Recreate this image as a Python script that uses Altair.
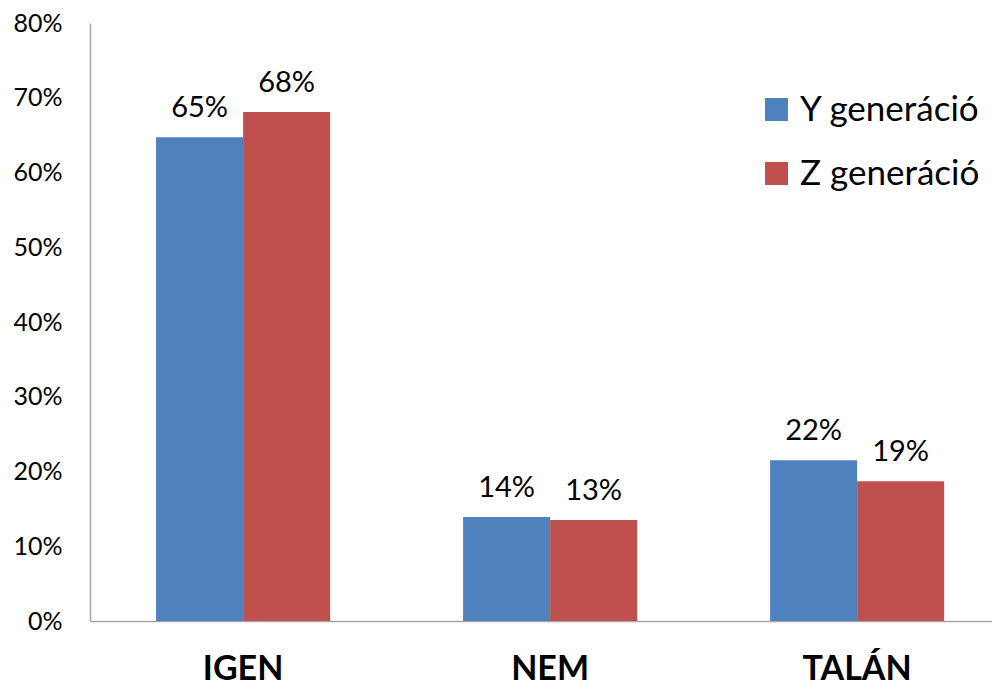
import altair as alt
import pandas as pd

categories = ["IGEN", "NEM", "TALÁN"]
series = ["Y generáció", "Z generáció"]
y_values = [64.7, 13.9, 21.5]
z_values = [68.1, 13.5, 18.7]
y_labels = ["65%", "14%", "22%"]
z_labels = ["68%", "13%", "19%"]
colors = ["#4F81BD", "#C0504D"]

rows = []
for i, c in enumerate(categories):
    rows.append({"cat": c, "series": series[0], "value": y_values[i], "label": y_labels[i]})
    rows.append({"cat": c, "series": series[1], "value": z_values[i], "label": z_labels[i]})
df = pd.DataFrame(rows)

FONT = "Lato"

x_scale = alt.Scale(domain=categories, paddingInner=0.433, paddingOuter=0.1855, align=0.58)
y_scale = alt.Scale(domain=[0, 80])
color_scale = alt.Scale(domain=series, range=colors)

base = alt.Chart(df).encode(
    x=alt.X("cat:N", scale=x_scale, sort=categories,
            axis=alt.Axis(title=None, labelAngle=0, labelFont=FONT, labelFontSize=34,
                          labelFontWeight="bold", labelColor="#000000", ticks=False,
                          labelPadding=31, domainColor="#A6A6A6", domainWidth=1.5)),
    xOffset=alt.XOffset("series:N", sort=series, scale=alt.Scale(paddingInner=0, paddingOuter=0)),
)

bars = base.mark_bar().encode(
    y=alt.Y("value:Q", scale=y_scale,
            axis=alt.Axis(title=None, values=[0, 10, 20, 30, 40, 50, 60, 70, 80],
                          labelExpr="datum.value + '%'", grid=False, ticks=False,
                          labelFont=FONT, labelFontSize=25, labelColor="#000000",
                          labelPadding=28, domainColor="#A6A6A6", domainWidth=1.5)),
    color=alt.Color("series:N", scale=color_scale, sort=series,
                    legend=alt.Legend(title=None, orient="none", legendX=669, legendY=69,
                                      symbolType="square", symbolSize=530, symbolStrokeWidth=0,
                                      labelFont=FONT, labelFontSize=35, labelColor="#000000",
                                      labelLimit=400, rowPadding=28, symbolOffset=0, labelOffset=6)),
)

texts = base.mark_text(font=FONT, fontSize=29, color="#000000", baseline="alphabetic", dy=-20).encode(
    y=alt.Y("value:Q", scale=y_scale),
    text="label:N",
)

chart = (bars + texts).properties(
    width=902, height=598,
    autosize=alt.AutoSizeParams(type="none"),
    padding={"left": 82, "top": 15, "right": 0, "bottom": 66},
).configure_view(stroke=None)

chart.save("out.html", embed_options={"renderer": "svg", "actions": False})
